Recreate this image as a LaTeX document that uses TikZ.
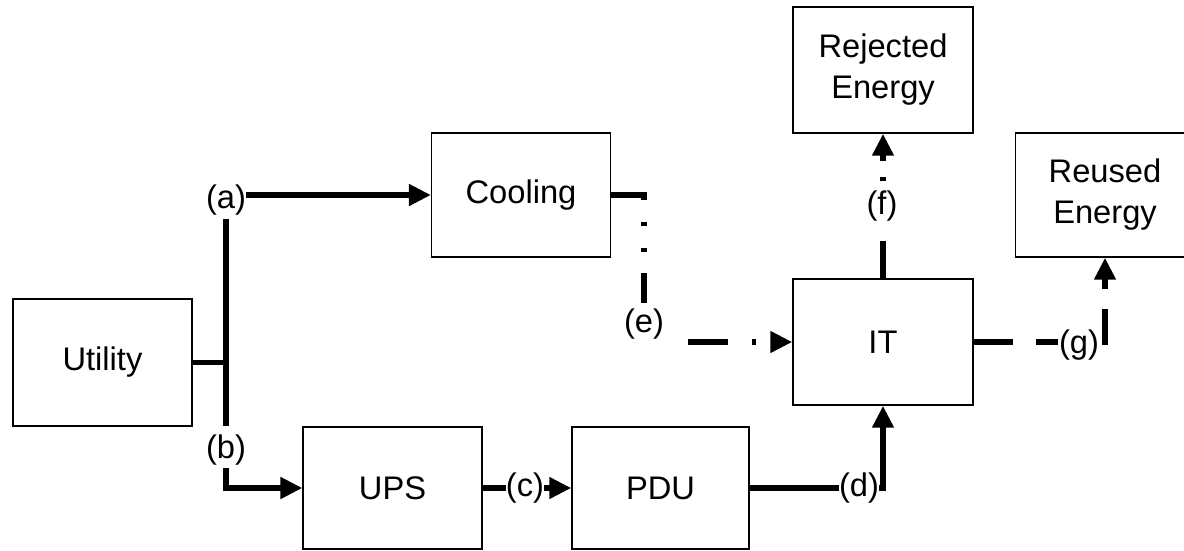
\documentclass[tikz,border=0pt]{standalone}
\usepackage{fontspec}
\setmainfont{Liberation Sans}
\usetikzlibrary{arrows.meta}
\begin{document}
\begin{tikzpicture}[x=0.75pt,y=-0.75pt,
  box/.style={draw, line width=1.1pt, minimum width=134pt, minimum height=93pt, inner sep=0pt, align=center, font=\fontsize{24.5}{30.75}\selectfont},
  lbl/.style={inner sep=0pt, font=\fontsize{24.5}{30}\selectfont},
  conn/.style={line width=4.2pt},
  arr/.style={-{Triangle[length=16.5pt,width=15.5pt]}},
  epat/.style={dash pattern=on 28.5pt off 16.5pt on 3pt off 16.5pt on 3pt off 15.75pt on 22.5pt off 62.25pt on 30pt off 18pt on 3pt off 37.5pt},
  fpat/.style={dash pattern=on 27.75pt off 45pt on 3pt off 12pt on 22.5pt off 20pt},
  gpat/.style={dash pattern=on 29.25pt off 17.25pt on 16.5pt off 33pt on 27pt off 15pt on 45pt off 20pt},
]
\useasboundingbox (0,0) rectangle (1184,550);

% boxes
\node[box, minimum height=95pt] (util) at (102.5,362.5) {Utility};
\node[box] (cool) at (521,195) {Cooling};
\node[box, minimum height=91.5pt] (ups) at (392.5,488) {UPS};
\node[box, minimum height=91.5pt, minimum width=132.75pt] (pdu) at (660.5,488) {PDU};
\node[box, minimum height=94.5pt, minimum width=135pt] (it) at (883,342) {IT};
\node[box, minimum height=94.5pt, minimum width=135pt] (rej) at (883,70) {Rejected\\Energy};
\node[box] (reu) at (1105,195) {Reused\\Energy};

% labels
\node[lbl] (la) at (226,200) {(a)};
\node[lbl] (lb) at (226,450) {(b)};
\node[lbl] (lc) at (525,488) {(c)};
\node[lbl] (ld) at (859,488) {(d)};
\node[lbl] (le) at (644,324) {(e)};
\node[lbl] (lf) at (882,206) {(f)};
\node[lbl] (lg) at (1079,345) {(g)};

% power distribution
\draw[conn, shorten <=3pt, shorten >=6.5pt] (la.south) -- (lb.north);
\draw[conn] (util.east) -- (util.east -| la);
\draw[conn, arr] (la.east |- cool.west) -- (cool.west);
\draw[conn, arr, shorten <=2pt] (lb.south) |- (ups.west);
\draw[conn] (ups.east) -- (lc.west);
\draw[conn, arr] (lc.east) -- (pdu.west);
\draw[conn] (pdu.east) -- (ld.west);
\draw[conn, arr] (ld.east) -| (it.south);

% dash-dot flows
\draw[conn, epat, arr] (cool.east) -- ++(33,0) |- (it.west);
\draw[conn, fpat, arr] (it.north) -- (rej.south);
\draw[conn, gpat, arr] (it.east) -| (reu.south);
\end{tikzpicture}
\end{document}
